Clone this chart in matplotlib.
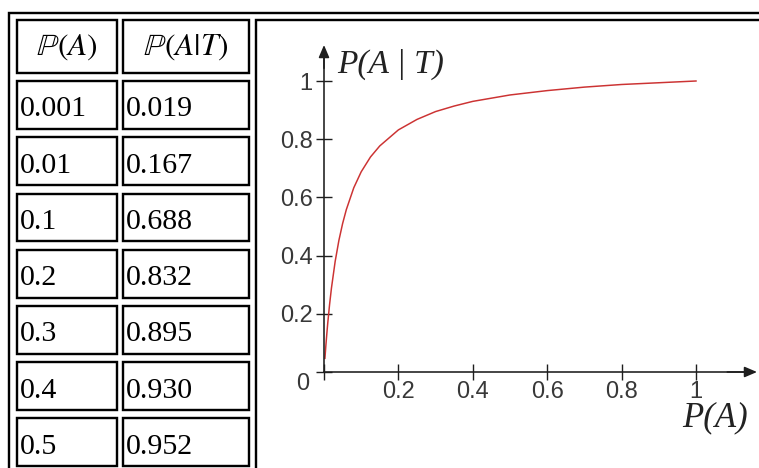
import matplotlib
matplotlib.use('Agg')
import matplotlib.pyplot as plt
from matplotlib.patches import Rectangle

# ---------------- data ----------------
table_header = [r'$\mathbb{P}(A)$', r'$\mathbb{P}(A|T)$']
table_pa = ['0.001', '0.01', '0.1', '0.2', '0.3', '0.4', '0.5']
table_pat = ['0.019', '0.167', '0.688', '0.832', '0.895', '0.930', '0.952']

# curve
curve_pa = [0.0025, 0.005, 0.0075, 0.01, 0.015, 0.02, 0.03, 0.04, 0.05, 0.06,
            0.08, 0.1, 0.125, 0.15, 0.2, 0.25, 0.3, 0.35, 0.4, 0.5, 0.6, 0.7,
            0.8, 0.9, 1.0]
curve_pat = [0.047, 0.091, 0.130, 0.167, 0.232, 0.288, 0.380, 0.452, 0.510, 0.558,
             0.633, 0.688, 0.739, 0.777, 0.832, 0.868, 0.895, 0.914, 0.930, 0.952,
             0.967, 0.979, 0.988, 0.994, 1.0]

xticks = [0, 0.2, 0.4, 0.6, 0.8, 1]
xtick_labels = ['', '0.2', '0.4', '0.6', '0.8', '1']
yticks = [0, 0.2, 0.4, 0.6, 0.8, 1]
ytick_labels = ['', '0.2', '0.4', '0.6', '0.8', '1']
xlabel = 'P(A)'
ylabel = 'P(A | T)'

# ---------------- figure ----------------
plt.rcParams['mathtext.fontset'] = 'stix'
W, H = 759, 468
fig = plt.figure(figsize=(W / 100, H / 100), dpi=100)
PT = 72 / 100  # points per pixel


def fx(px):
    return px / W


def fy(py):
    return 1 - py / H


def box(x0, y0, x1, y1, lw=2.4):
    r = Rectangle((fx(x0), fy(y1)), fx(x1) - fx(x0), fy(y0) - fy(y1),
                  transform=fig.transFigure, fill=False, ec='black',
                  lw=lw * PT, clip_on=False, joinstyle='miter')
    fig.add_artist(r)


# outer table border
box(9.2, 12.7, 900, 900, lw=2.4)

serif = 'Liberation Serif'
cell_fs = 21.5
col_x = [(17.2, 117.0), (123.2, 249.0)]
# header row
for (x0, x1), txt in zip(col_x, table_header):
    box(x0, 20.2, x1, 73.0)
    fig.text(fx((x0 + x1) / 2), fy(47), txt, ha='center', va='center',
             fontsize=22.5, color='black')
# data rows
for i, (a, b) in enumerate(zip(table_pa, table_pat)):
    top = 80 + 56.2 * i
    for (x0, x1), txt in zip(col_x, (a, b)):
        box(x0, top + 1.2, x1, top + 49.0)
        fig.text(fx(x0 + 2.3), fy(top + 36.5), txt, ha='left', va='baseline',
                 fontsize=cell_fs, family=serif, color='black')
# plot cell
box(256.2, 20.2, 900, 900)

# ---------------- plot ----------------
ox, oy = 324.0, 372.0     # pixel of origin
sx, sy = 372.0, 291.0     # pixels per unit
L, R, T, B = 258, 759, 21, 466
ax = fig.add_axes([fx(L), fy(B), fx(R) - fx(L), fy(T) - fy(B)])
ax.set_xlim((L - ox) / sx, (R - ox) / sx)
ax.set_ylim((oy - B) / sy, (oy - T) / sy)
ax.patch.set_visible(False)

axis_col = '#1e1e1e'
y_tip = (oy - 45) / sy
x_tip = (757 - ox) / sx
for s in ('top', 'right'):
    ax.spines[s].set_visible(False)
ax.spines['left'].set_position(('data', 0))
ax.spines['bottom'].set_position(('data', 0))
ax.spines['left'].set_bounds(0, y_tip - 0.02)
ax.spines['bottom'].set_bounds(0, x_tip - 0.02)
for s in ('left', 'bottom'):
    ax.spines[s].set_color(axis_col)
    ax.spines[s].set_linewidth(1.6 * PT)

arrow = '-|>,head_length=0.75,head_width=0.32'
ax.annotate('', xy=(0, y_tip), xytext=(0, y_tip - 0.08),
            arrowprops=dict(arrowstyle=arrow, color=axis_col, lw=1.6 * PT,
                            shrinkA=0, shrinkB=0))
ax.annotate('', xy=(x_tip, 0), xytext=(x_tip - 0.08, 0),
            arrowprops=dict(arrowstyle=arrow, color=axis_col, lw=1.6 * PT,
                            shrinkA=0, shrinkB=0))

tick_font = dict(family='Liberation Sans', size=17)
ax.set_xticks(xticks)
ax.set_xticklabels(xtick_labels, fontdict=tick_font, color='#383838')
ax.set_yticks(yticks)
ax.set_yticklabels(ytick_labels, fontdict=tick_font, color='#383838')
ax.tick_params(direction='inout', length=11.5, width=1.4 * PT, color=axis_col)
ax.tick_params(axis='x', pad=0.5)
ax.tick_params(axis='y', pad=2.5)

ax.annotate('0', xy=(0, 0), xytext=(-21, -12), textcoords='offset pixels',
            ha='center', va='center', fontsize=17, family='Liberation Sans',
            color='#383838')

ax.plot(curve_pa, curve_pat, color='#cc3333', lw=1.5 * PT, clip_on=False)

ax.annotate(ylabel, xy=(0, 1), xytext=(13, 17), textcoords='offset pixels',
            ha='left', va='center', fontsize=24, family=serif, style='italic',
            color='#222222')
ax.annotate(xlabel, xy=(1, 0), xytext=(-14, -46), textcoords='offset pixels',
            ha='left', va='center', fontsize=25, family=serif, style='italic',
            color='#222222')

fig.savefig('out.png', dpi=100)
